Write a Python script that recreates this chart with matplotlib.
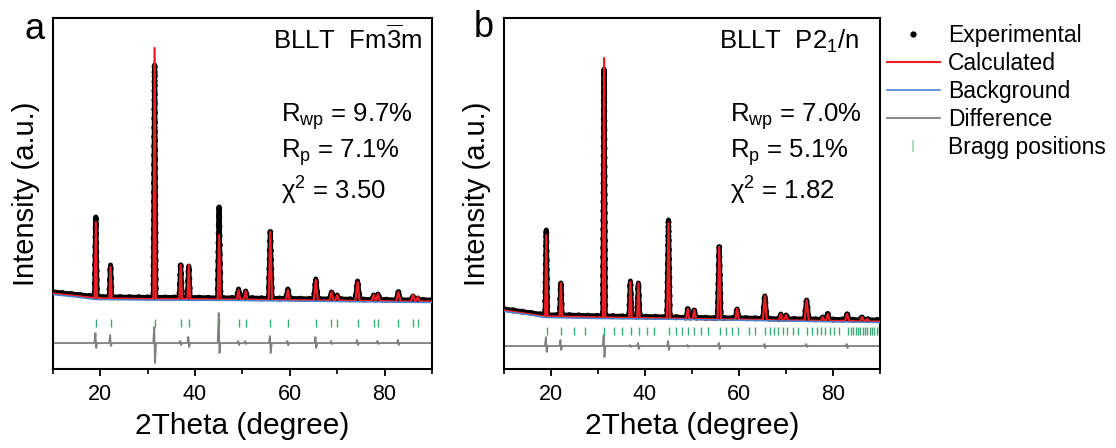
import matplotlib
matplotlib.use("Agg")
import matplotlib.pyplot as plt
from matplotlib.lines import Line2D

plt.rcParams['font.family'] = ['Liberation Sans', 'DejaVu Sans']
plt.rcParams['mathtext.fontset'] = 'custom'
plt.rcParams['mathtext.rm'] = 'Liberation Sans'
plt.rcParams['mathtext.it'] = 'Liberation Sans:italic'

# ---- panel a : Fm-3m ----------------------------------------------------
# y values are in arbitrary intensity units (offset, no y scale shown)
a_pos      = [19.1, 22.2, 31.5, 37.0, 38.7, 45.1, 49.2, 50.7, 55.9, 59.6,
              65.5, 68.8, 70.0, 74.3, 77.7, 78.6, 82.9, 86.0, 87.0]
a_calc_top = [147, 102, 321, 104, 104, 134, 79, 78, 137, 79,
              89, 77, 74, 87, 74, 75, 77, 74, 72]
a_exp_top  = [152, 104, 304, 104, 103, 162, 80, 78, 137, 80,
              90, 77, 74, 88, 74, 75, 77, 73, 71]
a_exp_base = [72.5, 72, 71.5, 71.5, 71.5, 71, 71, 71, 70.5, 70.5,
              70, 70, 70, 69.5, 69.5, 69.5, 69, 69, 69]
a_calc_base = [71, 70.5, 70, 70, 70, 69.5, 69.5, 69.5, 69, 69,
               68.5, 68.5, 68.5, 68, 68, 68, 67.5, 67.5, 67.5]
a_hw       = [0.25, 0.25, 0.25, 0.28, 0.28, 0.3, 0.35, 0.35, 0.35, 0.38,
              0.42, 0.4, 0.4, 0.45, 0.4, 0.4, 0.45, 0.45, 0.45]
a_ends_exp  = [(10, 77), (90, 69)]
a_ends_calc = [(10, 75.5), (90, 67.5)]
a_bg_x = [10, 15, 19, 30, 50, 70, 90]
a_bg_y = [74.5, 72, 69.5, 69, 68.5, 67.5, 66.5]
a_diff_base = 26
a_diff_pos  = [19.1, 22.2, 31.5, 37.0, 38.7, 45.1, 49.2, 50.7, 55.9, 59.6,
               65.5, 68.8, 74.3, 78.6, 82.9]
a_diff_up   = [10, 8, 16, 2, 6, 30, 2, 2, 7, 2, 6, 2, 3, 2, 3]
a_diff_down = [5, 3, 20, 2, 4, 10, 2, 1, 10, 2, 5, 1, 2, 1, 2]
a_bragg = [19.1, 22.2, 31.5, 37.0, 38.7, 45.1, 49.2, 50.7, 55.9, 59.6,
           65.5, 68.8, 70.0, 74.3, 77.7, 78.6, 82.9, 86.0, 87.0]
a_bragg_y = (42, 50)

# ---- panel b : P2_1/n ---------------------------------------------------
b_pos      = [19.0, 22.1, 31.3, 36.9, 38.6, 45.0, 49.1, 50.5, 55.8, 59.6,
              65.5, 68.9, 70.0, 74.4, 77.8, 78.9, 83.0, 86.2, 87.3]
b_calc_top = [134, 86, 311, 87, 86, 146, 60, 59, 122, 60,
              73, 55, 54, 69, 52, 55, 55, 52, 50]
b_exp_top  = [139, 86, 300, 88, 86, 149, 60, 59, 122, 60,
              73, 55, 54, 69, 52, 55, 55, 52, 50]
b_exp_base = [54, 54, 53, 52.5, 52.5, 52, 51.5, 51.5, 51, 51,
              50.5, 50, 50, 50, 49.5, 49.5, 49.5, 49, 49]
b_calc_base = [52.5, 52.5, 51.5, 51, 51, 50.5, 50, 50, 49.5, 49.5,
               49, 48.5, 48.5, 48.5, 48, 48, 48, 47.5, 47.5]
b_hw       = [0.25, 0.25, 0.25, 0.28, 0.28, 0.3, 0.35, 0.35, 0.35, 0.38,
              0.42, 0.4, 0.4, 0.45, 0.4, 0.4, 0.45, 0.45, 0.45]
b_ends_exp  = [(10, 60), (90, 49)]
b_ends_calc = [(10, 58.5), (90, 47.5)]
b_bg_x = [10, 15, 19, 30, 50, 70, 90]
b_bg_y = [57.5, 54.5, 51.5, 50.5, 49.5, 48, 46.5]
b_diff_base = 23
b_diff_pos  = [19.0, 22.1, 31.3, 36.9, 38.6, 45.0, 49.1, 55.8, 65.5, 74.4, 83.0]
b_diff_up   = [9, 6, 11, 1, 3, 5, 1, 3, 2, 2, 2]
b_diff_down = [6, 4, 11, 1, 3, 4, 1, 3, 2, 1, 2]
b_bragg = [19.1, 22.1, 24.9, 27.2, 31.3, 33.5, 35.2, 37.0, 38.7, 40.4,
           42.0, 45.1, 46.5, 47.8, 49.1, 50.5, 51.9, 53.5, 56.0, 57.3,
           58.5, 59.8, 62.2, 63.4, 65.6, 66.6, 67.4, 68.4, 69.3, 70.3,
           71.4, 72.5, 74.4, 75.5, 76.5, 77.4, 78.3, 79.3, 80.3, 81.3,
           83.3, 83.8, 84.3, 84.8, 85.3, 85.8, 86.3, 86.8, 87.3, 87.8,
           88.3, 88.8, 89.3, 89.8]
b_bragg_y = (34, 42)

RED = '#ee1d24'
BLUE = '#4a86d0'
GRAY = '#808080'
GREEN = '#3aaa78'


def profile(pos, top, base, hw, ends):
    xs = [ends[0][0]]
    ys = [ends[0][1]]
    for p, t, b, w in zip(pos, top, base, hw):
        xs += [p - w, p, p + w]
        ys += [b, t, b]
    xs.append(ends[1][0])
    ys.append(ends[1][1])
    return xs, ys


def diff_curve(pos, up, down, base, ends=(10, 90)):
    xs = [ends[0]]
    ys = [base]
    for p, u, d in zip(pos, up, down):
        xs += [p - 0.3, p - 0.08, p + 0.08, p + 0.3]
        ys += [base, base + u, base - d, base]
    xs.append(ends[1])
    ys.append(base)
    return xs, ys


def panel(ax, d):
    ex, ey = profile(d['pos'], d['exp_top'], d['exp_base'], d['hw'], d['ends_exp'])
    cx, cy = profile(d['pos'], d['calc_top'], d['calc_base'], d['hw'], d['ends_calc'])
    ax.plot(ex, ey, color='black', lw=3.6, solid_joinstyle='round', zorder=2)
    ax.plot(ex, ey, color='black', lw=4.4, ls=(0, (0.01, 1.5)),
            dash_capstyle='round', zorder=2)
    ax.plot(cx, cy, color=RED, lw=1.6, zorder=3)
    ax.plot(d['bg_x'], d['bg_y'], color=BLUE, lw=1.1, zorder=4)
    dx, dy = diff_curve(d['diff_pos'], d['diff_up'], d['diff_down'], d['diff_base'])
    ax.plot(dx, dy, color=GRAY, lw=1.3, zorder=2)
    ax.vlines(d['bragg'], d['bragg_y'][0], d['bragg_y'][1], color=GREEN, lw=1.0, zorder=2)

    ax.set_xlim(10, 90)
    ax.set_ylim(0, 351)
    ax.set_yticks([])
    ax.set_xticks([20, 40, 60, 80])
    ax.set_xticks([10, 30, 50, 70, 90], minor=True)
    ax.tick_params(axis='x', which='major', direction='out', length=5, width=1.3,
                   labelsize=15.5, pad=6)
    ax.tick_params(axis='x', which='minor', direction='out', length=3.5, width=1.2)
    for s in ax.spines.values():
        s.set_linewidth(1.5)
    ax.set_xlabel('2Theta (degree)', fontsize=21.5, labelpad=5)
    ax.set_ylabel('Intensity (a.u.)', fontsize=21, labelpad=9)


fig = plt.figure(figsize=(11.16, 4.48), dpi=100)
ax_a = fig.add_axes([0.0472, 0.1763, 0.3399, 0.7835])
ax_b = fig.add_axes([0.4516, 0.1763, 0.3369, 0.7835])

panel(ax_a, dict(pos=a_pos, calc_top=a_calc_top, exp_top=a_exp_top,
                 exp_base=a_exp_base, calc_base=a_calc_base, hw=a_hw,
                 ends_exp=a_ends_exp, ends_calc=a_ends_calc,
                 bg_x=a_bg_x, bg_y=a_bg_y, diff_base=a_diff_base,
                 diff_pos=a_diff_pos, diff_up=a_diff_up, diff_down=a_diff_down,
                 bragg=a_bragg, bragg_y=a_bragg_y))
panel(ax_b, dict(pos=b_pos, calc_top=b_calc_top, exp_top=b_exp_top,
                 exp_base=b_exp_base, calc_base=b_calc_base, hw=b_hw,
                 ends_exp=b_ends_exp, ends_calc=b_ends_calc,
                 bg_x=b_bg_x, bg_y=b_bg_y, diff_base=b_diff_base,
                 diff_pos=b_diff_pos, diff_up=b_diff_up, diff_down=b_diff_down,
                 bragg=b_bragg, bragg_y=b_bragg_y))

# annotations
ax_a.text(87.9, 320, r'BLLT  Fm$\overline{3}$m', fontsize=18.5, ha='right', va='baseline')
ax_b.text(85.5, 320, r'BLLT  P2$_1$/n', fontsize=18.5, ha='right', va='baseline')
for ax, vals in ((ax_a, ('9.7', '7.1', '3.50')), (ax_b, ('7.0', '5.1', '1.82'))):
    ax.text(58.1, 247, r'R$_{\mathrm{wp}}$ = ' + vals[0] + '%', fontsize=18.5, va='baseline')
    ax.text(58.1, 211, r'R$_{\mathrm{p}}$ = ' + vals[1] + '%', fontsize=18.5, va='baseline')
    ax.text(58.1, 169, r'χ$^{2}$ = ' + vals[2], fontsize=18.5, va='baseline')

fig.text(24 / 1116, 1 - 39 / 448, 'a', fontsize=26, va='baseline')
fig.text(474 / 1116, 1 - 37 / 448, 'b', fontsize=26, va='baseline')

handles = [
    Line2D([], [], ls='none', marker='o', color='black', markersize=3.5),
    Line2D([], [], color=RED, lw=1.5),
    Line2D([], [], color=BLUE, lw=1.2),
    Line2D([], [], color=GRAY, lw=1.3),
    Line2D([], [], ls='none', marker='|', color='#9fd6b8', markersize=8, mew=1.2),
]
labels = ['Experimental', 'Calculated', 'Background', 'Difference', 'Bragg positions']
fig.legend(handles, labels, loc='upper left', bbox_to_anchor=(887 / 1116, 1 - 24 / 448),
           frameon=False, fontsize=16.5, handlelength=2.3, handletextpad=0.35,
           labelspacing=0.22, borderpad=0, borderaxespad=0)

fig.savefig('out.png', dpi=100)
